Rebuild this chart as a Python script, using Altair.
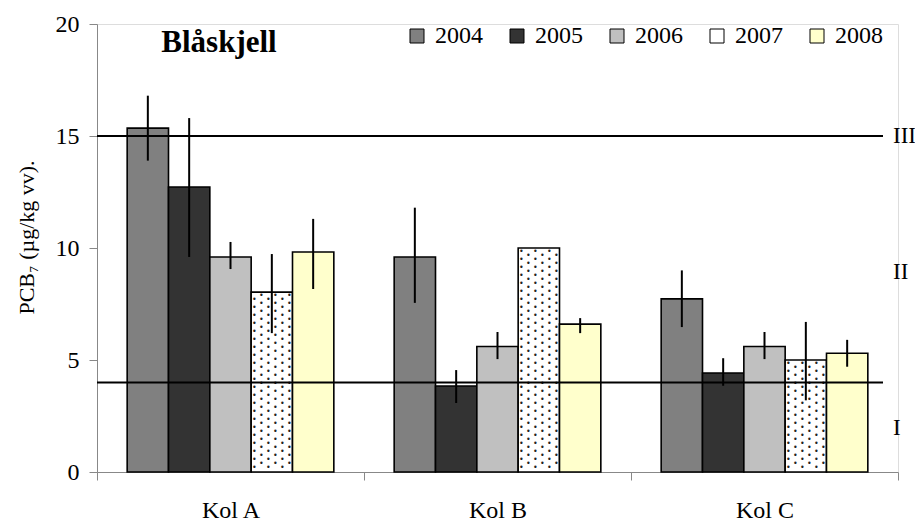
import altair as alt
import numpy as np
import pandas as pd

categories = ["Kol A", "Kol B", "Kol C"]
years = ["2004", "2005", "2006", "2007", "2008"]
values = {
    "2004": [15.35, 9.6, 7.73],
    "2005": [12.72, 3.84, 4.42],
    "2006": [9.6, 5.6, 5.6],
    "2007": [8.03, 10.0, 5.0],
    "2008": [9.82, 6.6, 5.3],
}
err_low = {
    "2004": [13.9, 7.55, 6.47],
    "2005": [9.6, 3.08, 3.85],
    "2006": [9.06, 5.04, 5.04],
    "2007": [6.2, 10.0, 3.2],
    "2008": [8.17, 6.2, 4.7],
}
err_high = {
    "2004": [16.8, 11.8, 9.0],
    "2005": [15.8, 4.55, 5.08],
    "2006": [10.27, 6.25, 6.25],
    "2007": [9.73, 10.0, 6.7],
    "2008": [11.3, 6.87, 5.9],
}
colors = ["#808080", "#333333", "#c0c0c0", "#ffffff", "#ffffcc"]
thresholds = [4, 15]
class_labels = ["I", "II", "III"]
class_label_y = [1.96, 8.93, 15.0]
chart_title = "Blåskjell"
y_title = "PCB₇ (µg/kg vv)."

rows = []
for y in years:
    for i, c in enumerate(categories):
        rows.append({"cat": c, "year": y, "value": values[y][i],
                     "lo": err_low[y][i], "hi": err_high[y][i]})
df = pd.DataFrame(rows)

# dotted pattern for 2007 bars (derived from the 2007 values)
dot_step = 0.357
dots_even, dots_odd = [], []
for i, c in enumerate(categories):
    v = values["2007"][i]
    for k, yy in enumerate(np.arange(0.18, v - 0.12, dot_step / 2)):
        (dots_even if k % 2 == 0 else dots_odd).append({"cat": c, "year": "2007", "y": float(yy)})
dots_even = pd.DataFrame(dots_even)
dots_odd = pd.DataFrame(dots_odd)

W, H = 801, 448
FONT = "Liberation Serif"

x_enc = alt.X("cat:N", sort=categories,
              scale=alt.Scale(domain=categories, paddingInner=0, paddingOuter=0),
              axis=alt.Axis(title=None, labelAngle=0, tickBand="extent", domainColor="#888888",
                            tickColor="#888888", tickSize=8, labelFont=FONT, labelFontSize=24,
                            labelColor="black", labelPadding=18, labelBaseline="top"))
xo_enc = alt.XOffset("year:N", sort=years,
                     scale=alt.Scale(domain=years, paddingOuter=0.73, paddingInner=0))
y_scale = alt.Scale(domain=[0, 20], nice=False)

bars = alt.Chart(df).mark_bar(stroke="black", strokeWidth=1.6).encode(
    x=x_enc,
    xOffset=xo_enc,
    y=alt.Y("value:Q", scale=y_scale,
            axis=alt.Axis(values=[0, 5, 10, 15, 20], title=y_title, grid=False,
                          domainColor="#888888", tickColor="#888888", tickSize=8,
                          labelFont=FONT, labelFontSize=24, labelColor="black", labelPadding=10,
                          titleFont=FONT, titleFontSize=22, titleFontWeight="normal",
                          titleColor="black", titleX=-64, titleY=H / 2 - 11,
                          titleBaseline="alphabetic", titleAngle=270)),
    color=alt.Color("year:N", sort=years,
                    scale=alt.Scale(domain=years, range=colors),
                    legend=alt.Legend(title=None, orient="none", direction="horizontal",
                                      columns=5, legendX=308, legendY=0, padding=0,
                                      symbolType="square", symbolSize=196,
                                      symbolStrokeColor="black", symbolStrokeWidth=1,
                                      labelFont=FONT, labelFontSize=24, labelColor="black",
                                      labelOffset=6, columnPadding=22)),
)

layers = [bars]
for df_d, offs in [(dots_even, [-17.5, -3.5, 10.5]), (dots_odd, [-10.5, 3.5, 17.5])]:
    for d in offs:
        layers.append(
            alt.Chart(df_d).mark_text(text="•", fontSize=8, color="#222222", dx=d,
                                      font="DejaVu Sans", baseline="middle").encode(
                x=alt.X("cat:N", sort=categories), xOffset=alt.XOffset("year:N", sort=years),
                y=alt.Y("y:Q", scale=y_scale))
        )

errs = alt.Chart(df).mark_rule(color="black", strokeWidth=2).encode(
    x=alt.X("cat:N", sort=categories), xOffset=alt.XOffset("year:N", sort=years),
    y=alt.Y("lo:Q", scale=y_scale), y2="hi:Q")
layers.append(errs)

thr = alt.Chart(pd.DataFrame({"t": thresholds})).mark_rule(color="black", strokeWidth=2).encode(
    y=alt.Y("t:Q", scale=y_scale), x=alt.value(0), x2=alt.value(786))
layers.append(thr)

cls = alt.Chart(pd.DataFrame({"lab": class_labels, "y": class_label_y})).mark_text(
    font=FONT, fontSize=23, color="black", align="left", baseline="middle").encode(
    text="lab:N", y=alt.Y("y:Q", scale=y_scale), x=alt.value(W - 5))
layers.append(cls)

ttl = alt.Chart(pd.DataFrame({"t": [chart_title]})).mark_text(
    font=FONT, fontSize=31, fontWeight="bold", color="black", align="center",
    baseline="middle").encode(text="t:N", x=alt.value(122), y=alt.value(19))
layers.append(ttl)

chart = alt.layer(*layers).properties(
    width=W, height=H,
    autosize=alt.AutoSizeParams(type="none"),
    padding={"left": 89, "top": 16, "right": 17, "bottom": 53},
).configure_view(stroke=None).configure(background="white", font=FONT)

chart.save("out.html", embed_options={"renderer": "svg", "actions": False})
